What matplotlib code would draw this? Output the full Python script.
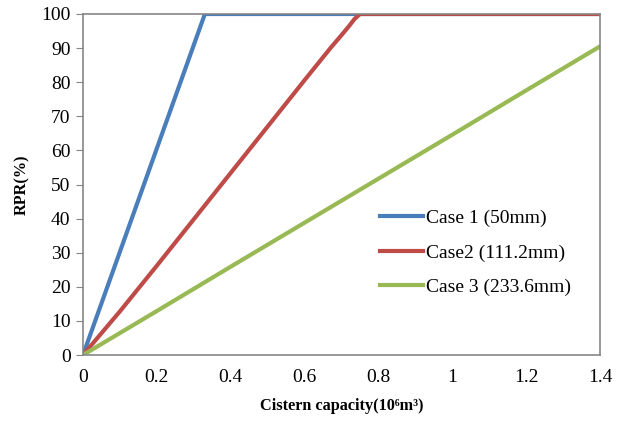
import matplotlib
matplotlib.use("Agg")
import matplotlib.pyplot as plt

# === Data ===
case1_x = [0, 0.33, 1.4]
case1_y = [0, 100, 100]

case2_x = [0, 0.1, 0.2, 0.4, 0.6, 0.67, 0.7, 0.72, 0.735, 0.75, 1.4]
case2_y = [0, 12.8, 26.2, 53.4, 80.6, 90.0, 93.8, 96.4, 98.5, 100, 100]

case3_x = [0, 0.2, 0.4, 0.6, 0.8, 1.0, 1.2, 1.4]
case3_y = [0, 12.9, 25.9, 38.8, 51.7, 64.6, 77.6, 90.5]

labels = ["Case 1 (50mm)", "Case2 (111.2mm)", "Case 3 (233.6mm)"]
colors = ["#4A7EBB", "#BE4B48", "#98B954"]

plt.rcParams["font.family"] = ["Liberation Serif", "DejaVu Serif"]

fig = plt.figure(figsize=(6.21, 4.28), dpi=100)
ax = fig.add_axes([83 / 621, 1 - 355 / 428, 517 / 621, 341 / 428])

ax.plot(case1_x, case1_y, color=colors[0], lw=3, label=labels[0])
ax.plot(case2_x, case2_y, color=colors[1], lw=3, label=labels[1])
ax.plot(case3_x, case3_y, color=colors[2], lw=3, label=labels[2])

ax.set_xlim(0, 1.4)
ax.set_ylim(0, 100)
ax.set_xticks([0, 0.2, 0.4, 0.6, 0.8, 1.0, 1.2, 1.4])
ax.set_xticklabels(["0", "0.2", "0.4", "0.6", "0.8", "1", "1.2", "1.4"])
ax.set_yticks(range(0, 101, 10))
ax.tick_params(axis="both", labelsize=14, colors="#000000")
ax.tick_params(axis="y", length=5, color="#868686", direction="out", pad=4)
ax.tick_params(axis="x", length=0, pad=10)

for s in ax.spines.values():
    s.set_color("#868686")
    s.set_linewidth(1.2)

ax.set_xlabel("Cistern capacity(10\u2076m\u00b3)", fontsize=11.7, fontweight="bold", labelpad=9)
ax.set_ylabel("RPR(%)", fontsize=11.7, fontweight="bold", labelpad=8)

ax.legend(loc="center left", bbox_to_anchor=(0.574, 0.30), frameon=False,
          fontsize=14, handlelength=2.2, handletextpad=0.2, labelspacing=0.85,
          borderpad=0, borderaxespad=0)

fig.savefig("out.png", dpi=100)
